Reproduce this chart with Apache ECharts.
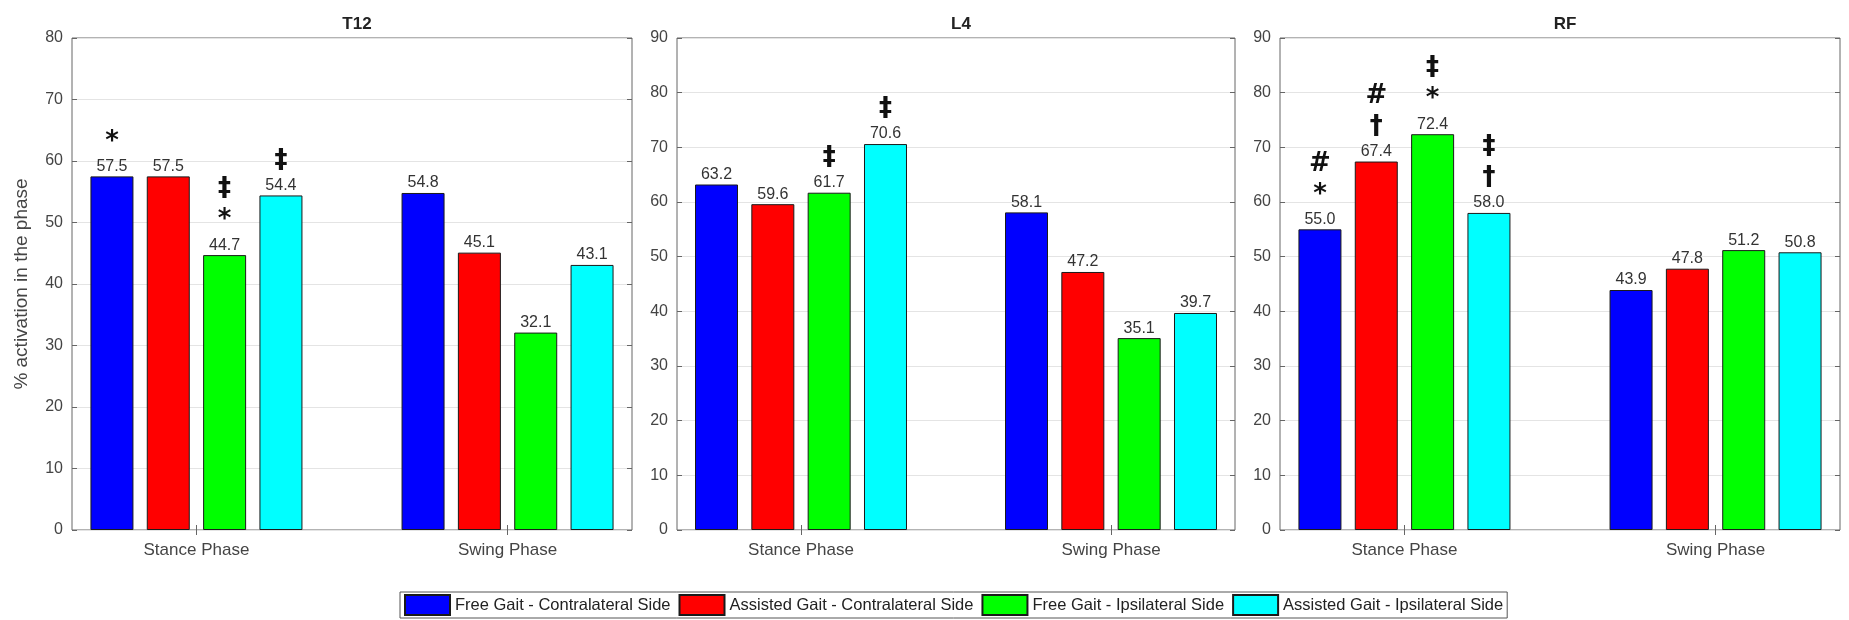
<!DOCTYPE html>
<html>
<head>
<meta charset="utf-8">
<script src="https://cdn.jsdelivr.net/npm/echarts@6/dist/echarts.min.js"></script>
<style>html,body{margin:0;padding:0;background:#fff;}#c{width:1849px;height:620px;}</style>
</head>
<body>
<div id="c"></div>
<script>
// ---- data ----
const phases = ['Stance Phase', 'Swing Phase'];
const phasePos = [1, 2];
const seriesNames = ['Free Gait - Contralateral Side', 'Assisted Gait - Contralateral Side', 'Free Gait - Ipsilateral Side', 'Assisted Gait - Ipsilateral Side'];
const seriesColors = ['#0000ff', '#ff0000', '#00ff00', '#00ffff'];
const panelTitles = ['T12', 'L4', 'RF'];
const yMax = [80, 90, 90];

// values [series][phase]
const t12 = [[57.5, 54.8], [57.5, 45.1], [44.7, 32.1], [54.4, 43.1]];
const l4  = [[63.2, 58.1], [59.6, 47.2], [61.7, 35.1], [70.6, 39.7]];
const rf  = [[55.0, 43.9], [67.4, 47.8], [72.4, 51.2], [58.0, 50.8]];

// significance markers [series][phase], top-to-bottom lines
const t12Marks = [['*', ''], ['', ''], ['‡\n*', ''], ['‡', '']];
const l4Marks  = [['', ''], ['', ''], ['‡', ''], ['‡', '']];
const rfMarks  = [['#\n*', ''], ['#\n†', ''], ['‡\n*', ''], ['‡\n†', '']];

const panelValues = [t12, l4, rf];
const panelMarks = [t12Marks, l4Marks, rfMarks];

// ---- layout ----
const grids = [
  {left: 72, width: 560},
  {left: 677, width: 558},
  {left: 1280, width: 560}
];
const FONT = 'Liberation Sans, Arial, sans-serif';

const option = {
  animation: false,
  backgroundColor: '#fff',
  textStyle: {fontFamily: FONT},
  title: [],
  grid: [],
  xAxis: [],
  yAxis: [],
  series: [],
  legend: {
    data: seriesNames,
    bottom: 2,
    left: 400,
    itemWidth: 45,
    itemHeight: 20,
    itemGap: 8,
    padding: [2, 4, 2, 4],
    borderColor: '#555',
    borderWidth: 1,
    borderRadius: 0,
    backgroundColor: '#fff',
    icon: 'rect',
    textStyle: {fontSize: 16.5, color: '#222', fontFamily: FONT}
  }
};

panelTitles.forEach((t, p) => {
  const g = grids[p];
  option.title.push({
    text: t, left: g.left + g.width / 2, top: 11, textAlign: 'center',
    textStyle: {fontSize: 17, fontWeight: 'bold', color: '#222', fontFamily: FONT}
  });
  option.grid.push({
    left: g.left, width: g.width, top: 38, bottom: 90,
    show: true, borderColor: '#666', borderWidth: 1, backgroundColor: 'transparent'
  });
  // bottom x axis
  option.xAxis.push({
    type: 'value', gridIndex: p, min: 0.6, max: 2.4,
    axisLine: {show: false},
    splitLine: {show: false},
    axisTick: {show: true, inside: true, length: 5, customValues: phasePos, lineStyle: {color: '#666'}},
    axisLabel: {
      customValues: phasePos, margin: 12, fontSize: 17, color: '#444', fontFamily: FONT,
      formatter: v => phases[phasePos.indexOf(Math.round(v))] || ''
    }
  });
  // top x axis (ticks only)
  option.xAxis.push({
    type: 'value', gridIndex: p, min: 0.6, max: 2.4, position: 'top',
    axisLine: {show: false}, splitLine: {show: false},
    axisTick: {show: true, inside: true, length: 5, customValues: phasePos, lineStyle: {color: '#666'}},
    axisLabel: {show: false}
  });
  // left y axis
  option.yAxis.push({
    type: 'value', gridIndex: p, min: 0, max: yMax[p], interval: 10,
    name: p === 0 ? '% activation in the phase' : '',
    nameLocation: 'middle', nameGap: 41,
    nameTextStyle: {fontSize: 19, color: '#444', fontFamily: FONT},
    axisLine: {show: false},
    axisTick: {show: true, inside: true, length: 5, lineStyle: {color: '#666'}},
    axisLabel: {fontSize: 16, color: '#444', margin: 9, fontFamily: FONT},
    splitLine: {show: true, lineStyle: {color: '#e4e4e4', width: 1}}
  });
  // right y axis (ticks only)
  option.yAxis.push({
    type: 'value', gridIndex: p, min: 0, max: yMax[p], interval: 10, position: 'right',
    axisLine: {show: false},
    axisTick: {show: true, inside: true, length: 5, lineStyle: {color: '#666'}},
    axisLabel: {show: false},
    splitLine: {show: false}
  });

  seriesNames.forEach((name, s) => {
    const vals = panelValues[p][s];
    const marks = panelMarks[p][s];
    option.series.push({
      type: 'bar', name: name,
      xAxisIndex: p * 2, yAxisIndex: p * 2,
      data: phasePos.map((x, i) => [x, vals[i]]),
      barWidth: 43, barGap: '31%',
      itemStyle: {color: seriesColors[s], borderColor: '#1a1a1a', borderWidth: 1},
      label: {
        show: true, position: 'top', distance: 1,
        formatter: prm => {
          const m = marks[prm.dataIndex];
          let out = '';
          if (m) out = m.split('\n').map(x => '{m|' + x + '}').join('\n') + '\n';
          return out + '{v|' + vals[prm.dataIndex].toFixed(1) + '}';
        },
        rich: {
          m: {fontSize: 26, fontWeight: 'bold', lineHeight: 31, color: '#111', align: 'center', fontFamily: 'DejaVu Sans, sans-serif'},
          v: {fontSize: 16, lineHeight: 18, color: '#333', align: 'center', fontFamily: FONT}
        }
      }
    });
  });
});

const chart = echarts.init(document.getElementById('c'), null, {renderer: 'canvas'});
chart.setOption(option);
</script>
</body>
</html>
